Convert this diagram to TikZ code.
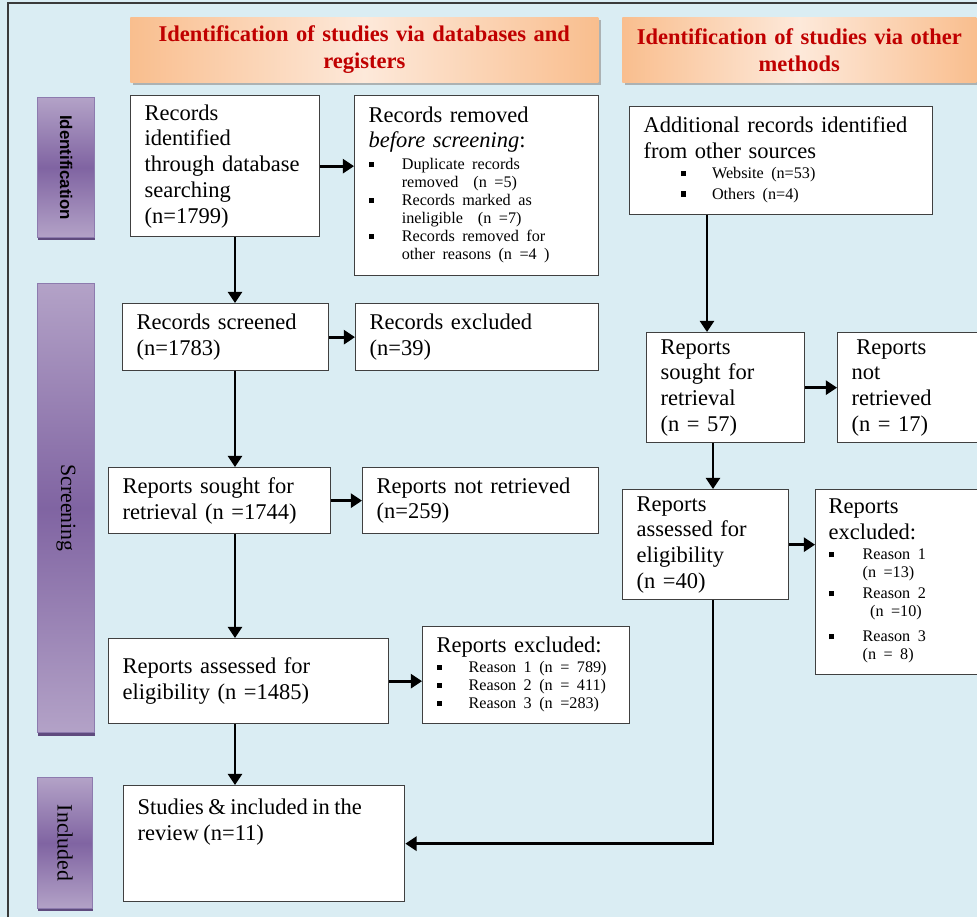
\documentclass[tikz,border=0pt]{standalone}
\usepackage{fontspec}
\setmainfont{Liberation Serif}[WordSpace=0.8]
\newfontfamily\labelsans{Liberation Sans}
\usetikzlibrary{arrows.meta,shadows}
\definecolor{bgblue}{HTML}{DAEDF3}
\definecolor{framegray}{HTML}{3A3A3A}
\definecolor{boxline}{HTML}{404040}
\definecolor{headorange}{HTML}{F9BE8E}
\definecolor{headlight}{HTML}{FDE9DA}
\definecolor{headred}{HTML}{C00000}
\definecolor{stagelight}{HTML}{B3A2C7}
\definecolor{stagedark}{HTML}{8064A2}
\definecolor{stageline}{HTML}{8D7BAE}
\definecolor{stageshadow}{HTML}{5F4B7E}
\newcommand{\boxfont}{\fontsize{16}{18.3}\selectfont}
\newcommand{\listfont}{\fontsize{11.5}{12.8}\selectfont}
\newcommand{\headfont}{\fontsize{16}{19.2}\selectfont\bfseries}
\newcommand{\sqb}{\rule[1.7pt]{3.8pt}{3.8pt}}
\tikzset{
  box/.style={draw=boxline, line width=0.9pt, fill=white, anchor=north west, align=left,
    inner xsep=0.35cm, inner ysep=0pt, font=\boxfont},
  head/.style={anchor=north west, left color=headorange, right color=headorange, middle color=headlight,
    drop shadow={shadow xshift=2pt, shadow yshift=-2pt, fill=black!40, opacity=0.7},
    align=center, font=\headfont, text=headred, inner sep=0pt},
  stage/.style={anchor=north west, draw=stageline, line width=0.8pt, top color=stagelight,
    bottom color=stagelight, middle color=stagedark, minimum width=1.425cm, inner sep=0pt,
    drop shadow={shadow xshift=0pt, shadow yshift=-2pt, fill=stageshadow, opacity=1}},
  stagetext/.style={rotate=-90, font=\fontsize{15.5}{18}\selectfont, text=black},
  flow/.style={line width=2.1pt, -{Triangle[length=8pt,width=10pt]}}
}
\begin{document}
\begin{tikzpicture}[x=0.025cm, y=-0.025cm]
  \useasboundingbox (0,0) rectangle (977,917);
  \fill[bgblue] (0,0) rectangle (977,917);
  \draw[framegray, line width=1pt] (8,917) -- (8,3) -- (977,3);

  \node[head, minimum width=11.7cm, minimum height=1.625cm, text width=11.2cm] (dbhead) at (130,17)
    {Identification of studies via databases and\\registers};
  \node[head, minimum width=8.85cm, minimum height=1.625cm, text width=8.4cm] (othhead) at (622,17)
    {Identification of studies via other\\methods};

  \node[stage, minimum height=3.5cm] (idbar) at (37,97) {};
  \node[stagetext, font=\labelsans\bfseries\fontsize{12}{14}\selectfont] (idtext) at (idbar.center) {Identification};
  \node[stage, minimum height=11.225cm] (scbar) at (37,283) {};
  \node[stagetext] (sctext) at (scbar.center) {Screening};
  \node[stage, minimum height=3.275cm, minimum width=1.375cm] (inbar) at (37,777) {};
  \node[stagetext] (intext) at (inbar.center) {Included};

  \node[box, text width=4.025cm, minimum height=3.525cm] (records) at (130,95)
    {Records\\identified\\through database\\searching\\(n=1799)};
  \node[box, text width=5.4cm, minimum height=4.5cm] (removed) at (354,95)
    {Records removed\\\textit{before screening}:\\[-3pt]
     {\listfont\begin{tabular}[t]{@{}p{0.83cm}@{}l@{}}
      \sqb & Duplicate records\\
           & removed\ \ (n =5)\\
      \sqb & Records marked as\\
           & ineligible\ \ (n =7)\\
      \sqb & Records removed for\\
           & other reasons (n =4 )
     \end{tabular}}};
  \node[box, text width=4.45cm, minimum height=1.675cm] (screened) at (122,303)
    {Records screened\\(n=1783)};
  \node[box, text width=5.375cm, minimum height=1.675cm] (excluded) at (355,303)
    {Records excluded\\(n=39)};
  \node[box, text width=4.85cm, minimum height=1.65cm] (sought) at (108,467)
    {Reports sought for\\retrieval (n =1744)};
  \node[box, text width=5.2cm, minimum height=1.65cm] (notretr) at (362,467)
    {Reports not retrieved\\(n=259)};
  \node[box, text width=6.3cm, minimum height=2.125cm] (assessed) at (108,638)
    {Reports assessed for\\eligibility (n =1485)};
  \node[box, text width=4.475cm, minimum height=2.425cm] (repexcl) at (422,626)
    {Reports excluded:\\[-4pt]
     {\listfont\begin{tabular}[t]{@{}p{0.8cm}@{}l@{}}
      \sqb & Reason 1 (n = 789)\\
      \sqb & Reason 2 (n = 411)\\
      \sqb & Reason 3 (n =283)
     \end{tabular}}};
  \node[box, inner ysep=0.325cm] (included) at (123,785)
    {\parbox[c][2.25cm][t]{6.325cm}{\raggedright Studies \& included in the\\review (n=11)}};

  \node[box, text width=6.875cm, minimum height=2.7cm] (other) at (629,106)
    {Additional records identified\\from other sources\\[-4pt]
     {\listfont\begin{tabular}[t]{@{\hspace{0.93cm}}p{0.78cm}@{}l@{}}
      \sqb & Website (n=53)\\[2pt]
      \sqb & Others (n=4)
     \end{tabular}}};
  \node[box, text width=3.25cm, minimum height=2.75cm] (othsought) at (646,332)
    {Reports\\sought for\\retrieval\\(n = 57)};
  \node[box, text width=2.8cm, minimum height=2.75cm] (othnotretr) at (837,332)
    {\hspace{0.12cm}Reports\\not\\retrieved\\(n = 17)};
  \node[box, text width=3.45cm, minimum height=2.75cm] (othassessed) at (622,489)
    {Reports\\assessed for\\eligibility\\(n =40)};
  \node[box, text width=3.4cm, inner xsep=0.325cm, minimum height=4.625cm] (othexcl) at (815,489)
    {Reports\\excluded:\\[-4pt]
     {\listfont\begin{tabular}[t]{@{}p{0.85cm}@{}l@{}}
      \sqb & Reason 1\\
           & (n =13)\\[2pt]
      \sqb & Reason 2\\
           & \ (n =10)\\[5pt]
      \sqb & Reason 3\\
           & (n = 8)
     \end{tabular}}};

  \coordinate (lspine) at (235,0);
  \coordinate (rspine) at (713,0);
  \coordinate (tspine) at (707,0);

  \draw[flow] (records.east) -- (records.east -| removed.west);
  \draw[flow] (records.south -| lspine) -- (screened.north -| lspine);
  \draw[flow] (screened.east) -- (screened.east -| excluded.west);
  \draw[flow] (screened.south -| lspine) -- (sought.north -| lspine);
  \draw[flow] (sought.east) -- (sought.east -| notretr.west);
  \draw[flow] (sought.south -| lspine) -- (assessed.north -| lspine);
  \draw[flow] (assessed.east) -- (assessed.east -| repexcl.west);
  \draw[flow] (assessed.south -| lspine) -- (included.north -| lspine);
  \draw[flow] (other.south -| tspine) -- (othsought.north -| tspine);
  \draw[flow] (othsought.east) -- (othsought.east -| othnotretr.west);
  \draw[flow] (othsought.south -| rspine) -- (othassessed.north -| rspine);
  \draw[flow] (othassessed.east) -- (othassessed.east -| othexcl.west);
  \draw[flow] (othassessed.south -| rspine) |- (included.east);
\end{tikzpicture}
\end{document}
